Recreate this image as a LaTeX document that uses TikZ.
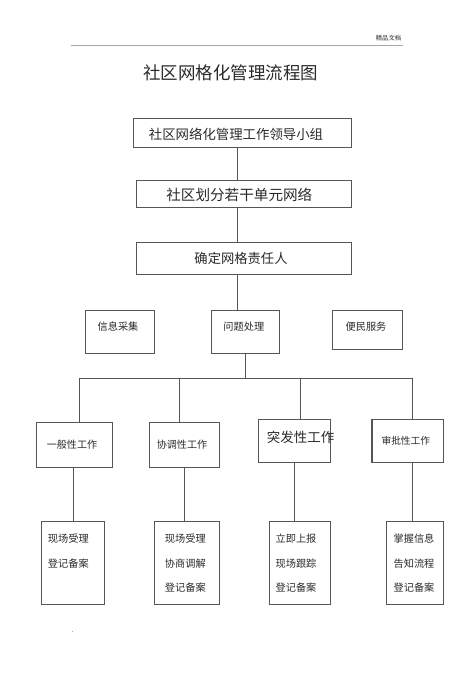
\documentclass[tikz,border=0pt]{standalone}
\usepackage{fontspec}
\setmainfont{Noto Sans CJK SC}
\definecolor{ln}{HTML}{555555}
\definecolor{tx}{HTML}{2A2A2A}
\tikzset{
  box/.style={draw=ln, line width=0.8pt, inner sep=0pt, rectangle},
  conn/.style={draw=ln, line width=0.8pt},
  txt/.style={inner sep=0pt, text=tx},
  heavy/.style={draw=ln, line width=1.4pt}
}
\newcommand{\fs}[1]{\fontsize{#1}{#1}\selectfont}
\begin{document}
\begin{tikzpicture}[x=1pt,y=-1pt]
\useasboundingbox (0,0) rectangle (475,673);
% header
\coordinate (hl) at (70.7,45.7);
\coordinate (hr) at (403,45.7);
\draw[draw=gray!70, line width=0.7pt] (hl) -- (hr);
\node[txt, font=\fs{6.3}] (hdr) at (388.5,38) {精品文档};
\node[txt, font=\fs{17.5}] (title) at (230.5,73) {社区网格化管理流程图};
% top boxes
\node[box, minimum width=218.4pt, minimum height=28.7pt] (b1) at (242.5,132.65) {};
\node[box, minimum width=215pt, minimum height=27.4pt] (b2) at (244.2,194) {};
\node[box, minimum width=215pt, minimum height=31.3pt] (b3) at (244.2,258.35) {};
\node[txt, font=\fs{13.4}] (t1) at (236,134) {社区网络化管理工作领导小组};
\node[txt, font=\fs{14.6}] (t2) at (239.3,195) {社区划分若干单元网络};
\node[txt, font=\fs{13.3}] (t3) at (241,258.7) {确定网格责任人};
% row 4
\node[box, minimum width=68.6pt, minimum height=43.3pt] (r4a) at (120,331.65) {};
\node[box, minimum width=67.6pt, minimum height=43.3pt] (r4b) at (245.5,331.65) {};
\node[box, minimum width=69.6pt, minimum height=39pt] (r4c) at (367.5,329.5) {};
\draw[heavy] (r4a.south west) -- (r4a.south east);
\draw[heavy] (r4b.south west) -- (r4b.south east);
\draw[heavy] (r4c.south west) -- (r4c.south east);
\node[txt, font=\fs{10.2}] (t4a) at (118,326.7) {信息采集};
\node[txt, font=\fs{10.2}] (t4b) at (243.8,326.7) {问题处理};
\node[txt, font=\fs{10.2}] (t4c) at (366,326.7) {便民服务};
% row 5
\node[box, minimum width=76pt, minimum height=44.7pt] (r5a) at (74.7,444.65) {};
\node[box, minimum width=69.3pt, minimum height=44.7pt] (r5b) at (184.35,444.65) {};
\node[box, minimum width=72pt, minimum height=43.7pt] (r5c) at (294.7,440.85) {};
\node[box, minimum width=71pt, minimum height=43.7pt] (r5d) at (407.8,440.85) {};
\draw[heavy] (r5d.south west) -- (r5d.north west);
\node[txt, font=\fs{10.1}] (t5a) at (72,445) {一般性工作};
\node[txt, font=\fs{10.1}] (t5b) at (182,445) {协调性工作};
\node[txt, font=\fs{13.5}] (t5c) at (300.5,437.3) {突发性工作};
\node[txt, font=\fs{9.7}] (t5d) at (405.8,440.7) {审批性工作};
% row 6
\node[box, minimum width=63.4pt, minimum height=82.6pt] (r6a) at (73,563) {};
\node[box, minimum width=64.7pt, minimum height=82.6pt] (r6b) at (186.65,563) {};
\node[box, minimum width=61.3pt, minimum height=82.6pt] (r6c) at (299.65,563) {};
\node[box, minimum width=57.3pt, minimum height=82.6pt] (r6d) at (414.65,563) {};
\node[txt, font=\fontsize{10.2}{24.5}\selectfont, align=left, anchor=north west] (t6a) at (47.7,534) {现场受理\\登记备案};
\node[txt, font=\fontsize{10.2}{24.5}\selectfont, align=center, anchor=north] (t6b) at (185.3,534) {现场受理\\协商调解\\登记备案};
\node[txt, font=\fontsize{10.2}{24.5}\selectfont, align=center, anchor=north] (t6c) at (296,534) {立即上报\\现场跟踪\\登记备案};
\node[txt, font=\fontsize{10.2}{24.5}\selectfont, align=center, anchor=north] (t6d) at (414,534) {掌握信息\\告知流程\\登记备案};
% connector coordinates
\coordinate (xa) at (237,0);
\coordinate (xb) at (245.7,0);
\coordinate (bus) at (0,378.3);
\coordinate (d1) at (79.3,0);
\coordinate (d2) at (179.3,0);
\coordinate (d3) at (300.7,0);
\coordinate (d4) at (412.3,0);
\coordinate (e1) at (73.7,0);
\coordinate (e2) at (184.7,0);
\coordinate (e3) at (294.3,0);
\coordinate (e4) at (412.7,0);
% connectors
\draw[conn] (xa |- b1.south) -- (xa |- b2.north);
\draw[conn] (xa |- b2.south) -- (xa |- b3.north);
\draw[conn] (xa |- b3.south) -- (xa |- r4b.north);
\draw[conn] (xb |- r4b.south) -- (xb |- bus);
\draw[conn] (d1 |- bus) -- (d4 |- bus);
\draw[conn] (d1 |- bus) -- (d1 |- r5a.north);
\draw[conn] (d2 |- bus) -- (d2 |- r5b.north);
\draw[conn] (d3 |- bus) -- (d3 |- r5c.north);
\draw[conn] (d4 |- bus) -- (d4 |- r5d.north);
\draw[conn] (e1 |- r5a.south) -- (e1 |- r6a.north);
\draw[conn] (e2 |- r5b.south) -- (e2 |- r6b.north);
\draw[conn] (e3 |- r5c.south) -- (e3 |- r6c.north);
\draw[conn] (e4 |- r5d.south) -- (e4 |- r6d.north);
% stray dot
\fill[gray] (72.3,631.7) circle (0.5pt);
\end{tikzpicture}
\end{document}
